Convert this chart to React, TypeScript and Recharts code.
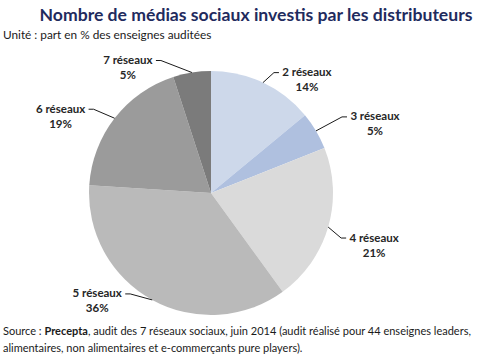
import { PieChart, Pie, Cell } from 'recharts';

const categories = ['2 réseaux', '3 réseaux', '4 réseaux', '5 réseaux', '6 réseaux', '7 réseaux'];
const shares = [14, 5, 21, 36, 19, 5];
const sliceColors = ['#cdd8ea', '#afc0df', '#dadada', '#bababa', '#9b9b9b', '#7b7b7b'];

// where each label sits, relative to the point on the rim (Excel placed them by hand)
const labelOffsets = [
  { dx: 44, dy: -11 },
  { dx: 59, dy: -15 },
  { dx: 46, dy: 10 },
  { dx: -55, dy: -7 },
  { dx: -54, dy: -10 },
  { dx: -64, dy: -13 },
];

const data = categories.map((name, i) => ({ name, value: shares[i] }));

const RAD = Math.PI / 180;
const FONT = 'Lato, "Open Sans", sans-serif';

const renderLabel = (props: any) => {
  const { cx, cy, midAngle, outerRadius, index, value } = props;
  const ex = cx + outerRadius * Math.cos(-midAngle * RAD);
  const ey = cy + outerRadius * Math.sin(-midAngle * RAD);
  const off = labelOffsets[index];
  const lx = ex + off.dx;
  const ly = ey + off.dy;
  const side = off.dx > 0 ? 1 : -1;
  const textEdge = lx - side * 27;
  const lineY = ly + 1;
  const points = `${ex},${ey} ${textEdge - side * 6},${lineY} ${textEdge - side * 1},${lineY}`;
  return (
    <g key={`lbl-${index}`}>
      <polyline points={points} fill="none" stroke="#1a1a1a" strokeWidth={1} />
      <text x={lx} y={ly} textAnchor="middle" dominantBaseline="central" fontSize={11.5} fontWeight={700} fill="#262626" fontFamily={FONT}>
        {categories[index]}
      </text>
      <text x={lx} y={ly + 15} textAnchor="middle" dominantBaseline="central" fontSize={11.5} fontWeight={700} fill="#262626" fontFamily={FONT}>
        {`${value}%`}
      </text>
    </g>
  );
};

export default function App() {
  return (
    <div style={{ position: 'absolute', left: 0, top: 0, width: 502, height: 356, background: '#fff', fontFamily: FONT }}>
      <div style={{ position: 'absolute', left: 0, top: 4, width: 512, textAlign: 'center', fontSize: 17.6, fontWeight: 700, color: '#1f2b5e' }}>
        Nombre de médias sociaux investis par les distributeurs
      </div>
      <div style={{ position: 'absolute', left: 3, top: 27, fontSize: 11.8, color: '#1a1a1a' }}>
        Unité : part en % des enseignes auditées
      </div>
      <div style={{ position: 'absolute', left: 0, top: 0 }}>
        <PieChart width={502} height={356}>
          <Pie
            data={data}
            dataKey="value"
            nameKey="name"
            cx={206}
            cy={188}
            outerRadius={122}
            startAngle={90}
            endAngle={-270}
            stroke="none"
            label={renderLabel}
            labelLine={false}
            isAnimationActive={false}
          >
            {data.map((d, i) => (
              <Cell key={d.name} fill={sliceColors[i]} />
            ))}
          </Pie>
        </PieChart>
      </div>
      <div style={{ position: 'absolute', left: 3, top: 322, width: 499, fontSize: 11, lineHeight: '17px', color: '#1a1a1a', whiteSpace: 'nowrap' }}>
        Source : <b>Precepta</b>, audit des 7 réseaux sociaux, juin 2014 (audit réalisé pour 44 enseignes leaders,
        <br />
        alimentaires, non alimentaires et e-commerçants pure players).
      </div>
    </div>
  );
}
